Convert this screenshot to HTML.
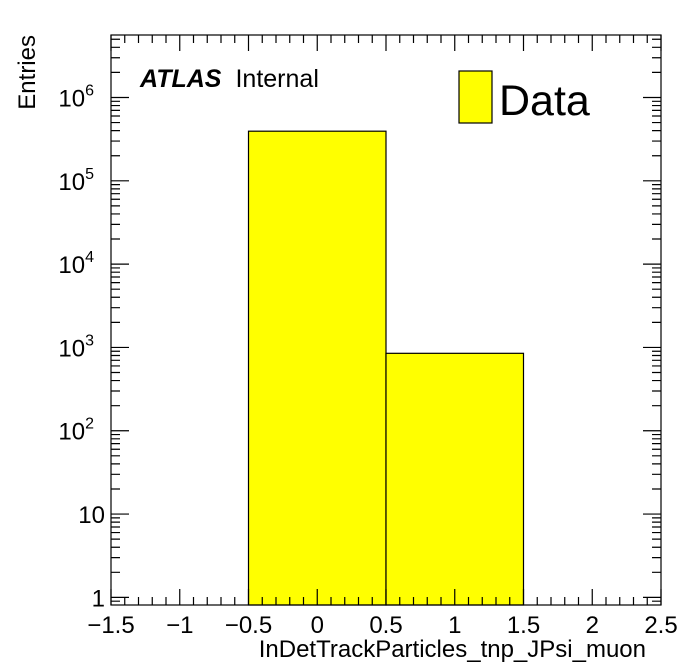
<!DOCTYPE html>
<html><head><meta charset="utf-8"><style>
body{margin:0;background:#fff}
svg{display:block;font-family:"Liberation Sans",Arial,sans-serif}
</style></head><body>
<svg id="c" width="696" height="672"></svg>
<script>
const binEdges=[-0.5,0.5,1.5];
const binCounts=[394000,850];
const xTicks=[-1.5,-1,-0.5,0,0.5,1,1.5,2,2.5];
const xTickLabels=["\u22121.5","\u22121","\u22120.5","0","0.5","1","1.5","2","2.5"];
const yDecades=[1,10,100,1000,10000,100000,1000000];
const yTickLabels=["1","10","10^2","10^3","10^4","10^5","10^6"];
const L=111,R=661,T=35,B=605;
const xmin=-1.5,xmax=2.5,lymin=Math.log10(0.81),lymax=6.75;
const X=v=>L+(v-xmin)/(xmax-xmin)*(R-L);
const Y=v=>B-(Math.log10(v)-lymin)/(lymax-lymin)*(B-T);
const svg=document.getElementById('c');const NS='http://www.w3.org/2000/svg';
function mk(t,a,p){const e=document.createElementNS(NS,t);for(const k in a)e.setAttribute(k,a[k]);(p||svg).appendChild(e);return e;}
// bars
binCounts.forEach((c,i)=>{
 const r=mk('rect',{x:X(binEdges[i]),y:Y(c),width:X(binEdges[i+1])-X(binEdges[i]),height:B-Y(c),fill:'#ffff00',stroke:'#000','stroke-width':1.2});
 
 
});
// frame
const f=mk('rect',{x:L,y:T,width:R-L,height:B-T,fill:'none',stroke:'#000','stroke-width':1.2});


// x ticks
let tk='';
for(let k=0;k<=40;k++){const v=xmin+k*0.1;const x=X(v);const maj=k%5==0;const len=maj?16:8;
 tk+=`M${x},${B}v${-len}M${x},${T}v${len}`;}
// y ticks
for(let d=-1;d<=6;d++){for(let m=1;m<=9;m++){const v=m*Math.pow(10,d);const lv=Math.log10(v);if(lv<lymin||lv>lymax)continue;const y=Y(v);const len=m==1?18:9;
 tk+=`M${L},${y}h${len}M${R},${y}h${-len}`;}}
const tp=mk('path',{d:tk,stroke:'#000','stroke-width':1.2,fill:'none'});


xTicks.forEach((v,i)=>{const t=mk('text',{x:X(v),y:633,'font-size':24,'text-anchor':'middle'});t.textContent=xTickLabels[i];
 
 });
yDecades.forEach((v,i)=>{const lab=yTickLabels[i];const y=Y(v)+9;
 const t=mk('text',{x:105,y:y,'font-size':24,'text-anchor':'end'});
 if(lab.startsWith('10^')){t.setAttribute('x',94);t.textContent='10';const s=mk('tspan',{dy:-11,'font-size':16},t);s.textContent=lab.slice(3);}
 else t.textContent=lab;
 
 });
const xt=mk('text',{x:646,y:657,'font-size':24,'text-anchor':'end'});xt.textContent='InDetTrackParticles_tnp_JPsi_muon';


const yt=mk('text',{x:0,y:0,'font-size':24,'text-anchor':'end',transform:'translate(35,35) rotate(-90)'});yt.textContent='Entries';


const at=mk('text',{x:140,y:87,'font-size':25});
const a1=mk('tspan',{'font-weight':'bold','font-style':'italic'},at);a1.textContent='ATLAS';
const a2=mk('tspan',{dx:14},at);a2.textContent='Internal';


const lg=mk('g',{});


mk('rect',{x:459,y:71,width:33,height:52,fill:'#ffff00',stroke:'#000','stroke-width':1.2},lg);
const lt=mk('text',{x:499,y:115,'font-size':43},lg);lt.textContent='Data';
</script>
</body></html>
